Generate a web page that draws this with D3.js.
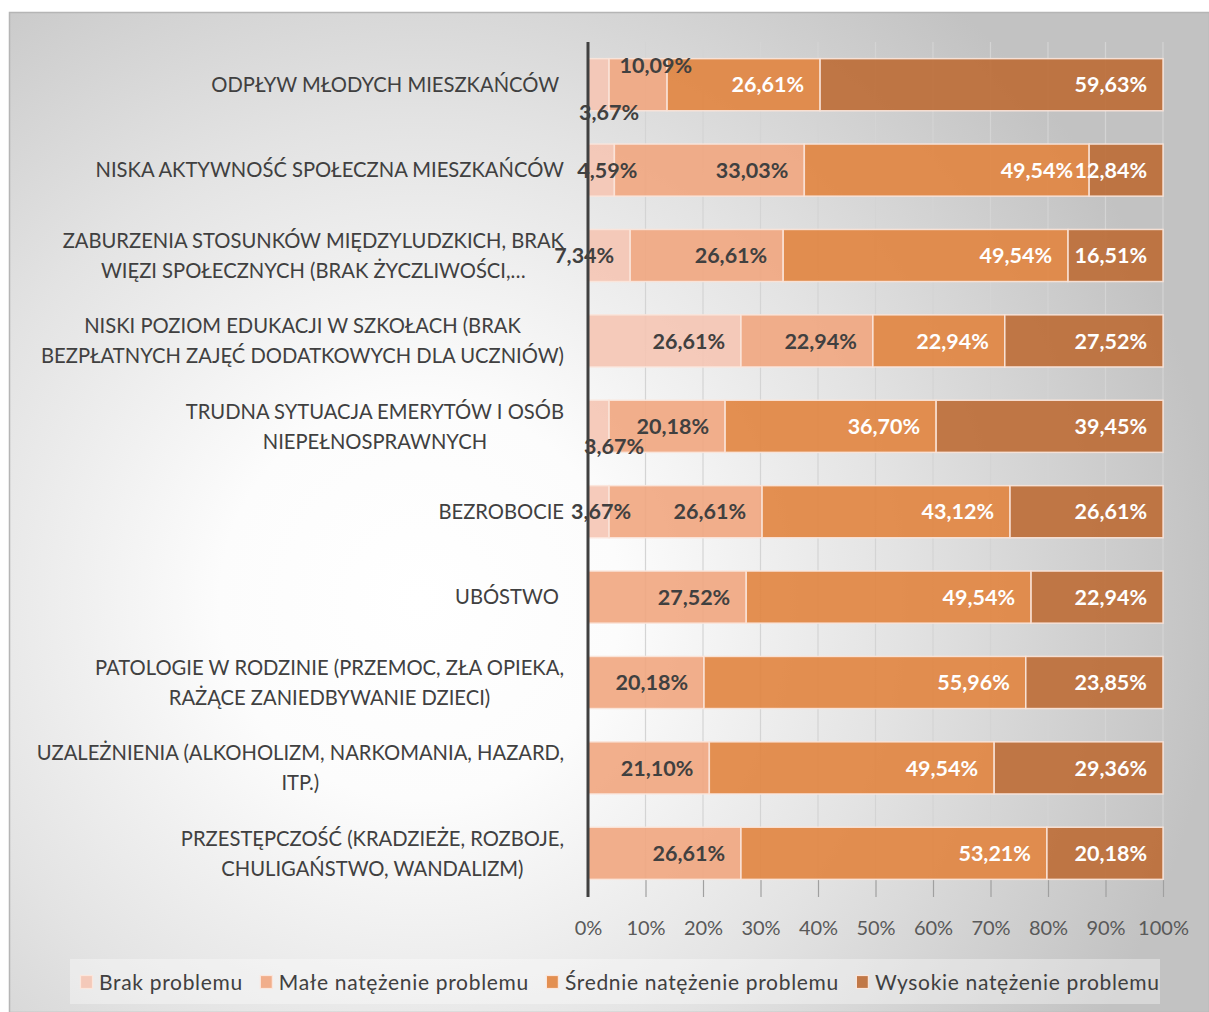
<!DOCTYPE html>
<html>
<head>
<meta charset="utf-8">
<script src="https://cdn.jsdelivr.net/npm/d3@7"></script>
<style>
  html, body { margin: 0; padding: 0; background: #ffffff; }
  svg { display: block; font-family: Lato, "Noto Sans", sans-serif; }
  text { white-space: pre; }
</style>
</head>
<body>
<svg id="chart" width="1209" height="1012"></svg>
<script>
// Problem categories (top to bottom); "\n" marks a line break in the axis label
const categories = [
  "ODPŁYW MŁODYCH MIESZKAŃCÓW ",
  "NISKA AKTYWNOŚĆ SPOŁECZNA MIESZKAŃCÓW",
  "ZABURZENIA STOSUNKÓW MIĘDZYLUDZKICH, BRAK\nWIĘZI SPOŁECZNYCH (BRAK ŻYCZLIWOŚCI,…",
  "NISKI POZIOM EDUKACJI W SZKOŁACH (BRAK\nBEZPŁATNYCH ZAJĘĆ DODATKOWYCH DLA UCZNIÓW)",
  "TRUDNA SYTUACJA EMERYTÓW I OSÓB\nNIEPEŁNOSPRAWNYCH",
  "BEZROBOCIE",
  "UBÓSTWO ",
  "PATOLOGIE W RODZINIE (PRZEMOC, ZŁA OPIEKA,\nRAŻĄCE ZANIEDBYWANIE DZIECI)",
  "UZALEŻNIENIA (ALKOHOLIZM, NARKOMANIA, HAZARD,\nITP.)",
  "PRZESTĘPCZOŚĆ (KRADZIEŻE, ROZBOJE,\nCHULIGAŃSTWO, WANDALIZM)"
];

const seriesNames = [
  "Brak problemu",
  "Małe natężenie problemu",
  "Średnie natężenie problemu",
  "Wysokie natężenie problemu"
];

// Percentage of answers per category, one array per series
const brakProblemu     = [3.67, 4.59, 7.34, 26.61, 3.67, 3.67, 0, 0, 0, 0];
const maleNatezenie    = [10.09, 33.03, 26.61, 22.94, 20.18, 26.61, 27.52, 20.18, 21.10, 26.61];
const srednieNatezenie = [26.61, 49.54, 49.54, 22.94, 36.70, 43.12, 49.54, 55.96, 49.54, 53.21];
const wysokieNatezenie = [59.63, 12.84, 16.51, 27.52, 39.45, 26.61, 22.94, 23.85, 29.36, 20.18];

const tickValues = [0, 10, 20, 30, 40, 50, 60, 70, 80, 90, 100];

// ---- styling ----
const colors = ["#f5c5b4", "#f1a680", "#e1843f", "#bd6c35"];
const labelColors = ["#404040", "#404040", "#ffffff", "#ffffff"];

// manual nudges for labels of narrow segments (row-series) -> offset in px
const labelNudge = {
  "0-0": { dx: 46, dy: 28 },
  "0-1": { dx: 41, dy: -19 },
  "1-0": { dx: 39, dy: 0 },
  "4-0": { dx: 51, dy: 20 },
  "5-0": { dx: 38, dy: 0 }
};

const W = 1209, H = 1012;
const svg = d3.select("#chart");

// chart area background with radial shading
const defs = svg.append("defs");
const grad = defs.append("radialGradient")
  .attr("id", "bg").attr("gradientUnits", "userSpaceOnUse")
  .attr("cx", 420).attr("cy", 600).attr("r", 800);
grad.append("stop").attr("offset", 0).attr("stop-color", "#ffffff");
grad.append("stop").attr("offset", 0.25).attr("stop-color", "#fcfcfc");
grad.append("stop").attr("offset", 0.6).attr("stop-color", "#e3e3e3");
grad.append("stop").attr("offset", 1).attr("stop-color", "#c2c2c2");

svg.append("rect")
  .attr("x", 9.5).attr("y", 12.5).attr("width", W - 9).attr("height", H - 12)
  .attr("fill", "url(#bg)").attr("stroke", "#b5b5b5").attr("stroke-width", 1.5);

// ---- scales ----
const x = d3.scaleLinear().domain([0, 100]).range([588, 1163]);
const y = d3.scaleBand().domain(d3.range(categories.length))
  .range([42, 896]).paddingInner(0.39).paddingOuter(0.195);

const plotTop = 42, gridBottom = 880, axisBottom = 897;

// vertical gridlines
svg.append("g").selectAll("line").data(tickValues.slice(1)).join("line")
  .attr("x1", d => x(d)).attr("x2", d => x(d))
  .attr("y1", plotTop).attr("y2", gridBottom)
  .attr("stroke", "#d4d4d4").attr("stroke-width", 1.2);

// x axis with tick marks and percentage labels
const xAxis = d3.axisBottom(x).tickValues(tickValues)
  .tickFormat(d => d + "%").tickSizeInner(axisBottom - gridBottom).tickSizeOuter(0).tickPadding(24);
const gx = svg.append("g").attr("transform", `translate(0,${gridBottom})`).call(xAxis);
gx.select(".domain").remove();
gx.selectAll(".tick line").attr("stroke", "#a0a0a0").attr("stroke-width", 1.2);
gx.selectAll(".tick text")
  .attr("fill", "#595959").attr("font-size", 20).attr("font-family", "Lato, sans-serif");

// stacked data
const seriesValues = [brakProblemu, maleNatezenie, srednieNatezenie, wysokieNatezenie];
const rows = categories.map((c, i) => {
  let acc = 0;
  return seriesValues.map((vals, s) => {
    const v = vals[i];
    const seg = { row: i, s, v, x0: acc, x1: acc + v };
    acc += v;
    return seg;
  });
});
const segments = rows.flat().filter(d => d.v > 0);

// bars
svg.append("g").selectAll("rect").data(segments).join("rect")
  .attr("x", d => x(d.x0))
  .attr("y", d => y(d.row))
  .attr("width", d => x(d.x1) - x(d.x0))
  .attr("height", y.bandwidth())
  .attr("fill", d => colors[d.s])
  .attr("fill-opacity", 0.9)
  .attr("stroke", "#fbe6dc").attr("stroke-opacity", 0.9).attr("stroke-width", 1.5);

// vertical category axis line
svg.append("line")
  .attr("x1", 588).attr("x2", 588).attr("y1", plotTop).attr("y2", axisBottom)
  .attr("stroke", "#404040").attr("stroke-width", 3);

// value labels (inside end)
const fmt = d => d3.format(".2f")(d).replace(".", ",") + "%";
const nudge = d => labelNudge[d.row + "-" + d.s] || { dx: 0, dy: 0 };
svg.append("g").selectAll("text").data(segments).join("text")
  .attr("x", d => x(d.x1) - 16 + nudge(d).dx)
  .attr("y", d => y(d.row) + y.bandwidth() / 2 + nudge(d).dy)
  .attr("dy", "0.36em")
  .attr("text-anchor", "end")
  .attr("font-size", 21.5).attr("font-weight", 700)
  .attr("fill", d => labelColors[d.s])
  .text(d => fmt(d.v));

// category labels: each block right-aligned, its lines centred on each other
const catG = svg.append("g").attr("font-size", 20.2).attr("fill", "#404040");
categories.forEach((c, i) => {
  const lines = c.split("\n");
  const cy = y(i) + y.bandwidth() / 2;
  const lh = 30;
  const texts = lines.map((ln, k) => catG.append("text")
    .attr("y", cy + (k - (lines.length - 1) / 2) * lh)
    .attr("dy", "0.36em")
    .attr("text-anchor", "middle")
    .text(ln));
  const blockW = d3.max(texts, t => t.node().getComputedTextLength());
  texts.forEach(t => t.attr("x", 564 - blockW / 2));
});

// legend
svg.append("rect")
  .attr("x", 70).attr("y", 959).attr("width", 1090).attr("height", 45)
  .attr("fill", "#ffffff").attr("fill-opacity", 0.35);
const legend = svg.append("g");
let lx = 80;
seriesNames.forEach((name, s) => {
  legend.append("rect")
    .attr("x", lx + 0.5).attr("y", 975.5).attr("width", 12).attr("height", 13)
    .attr("fill", colors[s]).attr("fill-opacity", 0.9)
    .attr("stroke", "#fbe6dc").attr("stroke-width", 1.2);
  const t = legend.append("text")
    .attr("x", lx + 19).attr("y", 982).attr("dy", "0.36em")
    .attr("font-size", 21).attr("letter-spacing", 0.68).attr("fill", "#404040")
    .text(name);
  lx += 19 + t.node().getComputedTextLength() + 17;
});
</script>
</body>
</html>
